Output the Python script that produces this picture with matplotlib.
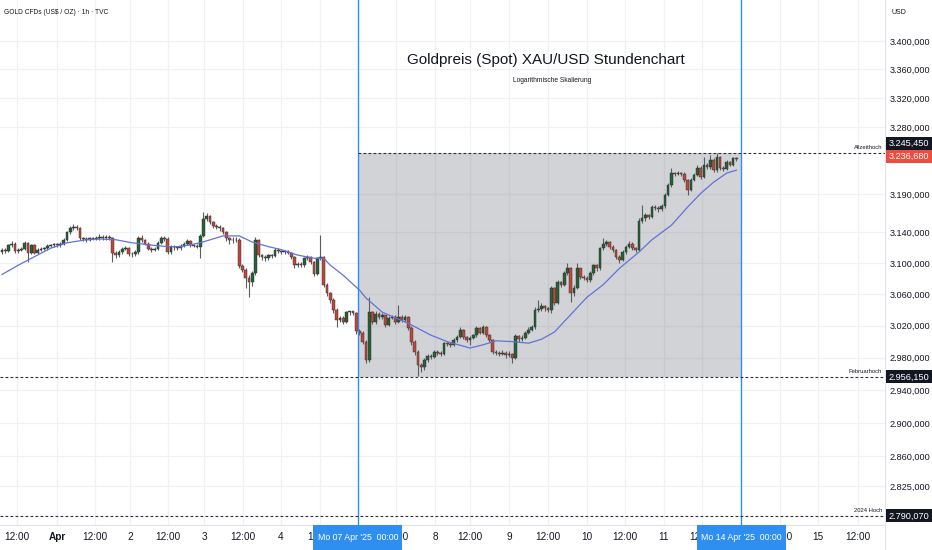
import numpy as np
import matplotlib
matplotlib.use("Agg")
import matplotlib.pyplot as plt
from matplotlib.patches import Rectangle
from matplotlib.lines import Line2D
import matplotlib.ticker as mticker

# ---------------- data (hourly candles, GOLD CFD) ----------------
first_open = 3114
closes = [
    3117, 3115, 3123, 3125, 3115, 3117, 3118, 3126, 3113, 3123,
    3113, 3117, 3118, 3119, 3122, 3123, 3124, 3123, 3125, 3130,
    3140, 3145, 3147, 3145, 3132, 3131, 3130, 3132, 3131, 3132,
    3134, 3132, 3134, 3132, 3113, 3110, 3114, 3118, 3119, 3112,
    3111, 3114, 3132, 3130, 3125, 3118, 3117, 3118, 3126, 3132,
    3131, 3114, 3121, 3120, 3119, 3122, 3125, 3128, 3123, 3122,
    3121, 3135, 3157, 3161, 3153, 3148, 3147, 3145, 3140, 3132,
    3130, 3129, 3130, 3096, 3091, 3081, 3075, 3087, 3130, 3110,
    3108, 3106, 3110, 3109, 3117, 3115, 3114, 3115, 3113, 3108,
    3097, 3099, 3097, 3106, 3108, 3101, 3086, 3106, 3107, 3072,
    3061, 3053, 3040, 3027, 3030, 3025, 3037, 3038, 3036, 3013,
    3011, 3000, 2977, 3037, 3025, 3035, 3031, 3033, 3021, 3030,
    3031, 3025, 3031, 3027, 3031, 3017, 3000, 2987, 2971, 2968,
    2977, 2982, 2981, 2987, 2986, 2985, 2998, 2997, 2996, 3002,
    3006, 3015, 3006, 3002, 3005, 3008, 3017, 3011, 3018, 3008,
    3002, 2987, 2986, 2985, 2986, 2983, 2985, 2980, 3007, 3003,
    3005, 3011, 3015, 3018, 3040, 3041, 3045, 3042, 3040, 3068,
    3049, 3075, 3072, 3087, 3093, 3061, 3068, 3093, 3082, 3081,
    3078, 3087, 3097, 3093, 3119, 3125, 3127, 3121, 3117, 3108,
    3104, 3114, 3121, 3125, 3119, 3117, 3155, 3158, 3162, 3160,
    3173, 3172, 3170, 3174, 3189, 3202, 3218, 3217, 3218, 3217,
    3209, 3196, 3209, 3216, 3225, 3213, 3229, 3226, 3236, 3222,
    3240, 3225, 3224, 3233, 3229, 3238, 3236.68]
highs = [
    3119, 3119, 3125, 3128, 3127, 3119, 3120, 3128, 3127, 3125,
    3125, 3119, 3120, 3121, 3124, 3125, 3126, 3126, 3127, 3132,
    3142, 3148, 3151, 3149, 3146, 3134, 3133, 3134, 3134, 3135,
    3138, 3136, 3136, 3136, 3133, 3115, 3116, 3121, 3122, 3121,
    3114, 3117, 3135, 3136, 3131, 3127, 3120, 3121, 3128, 3135,
    3135, 3133, 3123, 3123, 3122, 3124, 3127, 3131, 3129, 3125,
    3124, 3137, 3166, 3165, 3163, 3155, 3151, 3149, 3147, 3142,
    3134, 3133, 3133, 3132, 3098, 3093, 3084, 3089, 3134, 3131,
    3112, 3110, 3112, 3112, 3119, 3119, 3117, 3117, 3117, 3114,
    3109, 3101, 3101, 3108, 3110, 3109, 3102, 3108, 3136, 3109,
    3074, 3063, 3055, 3042, 3032, 3032, 3039, 3039, 3039, 3037,
    3016, 3013, 3002, 3056, 3039, 3038, 3037, 3036, 3034, 3032,
    3034, 3033, 3046, 3033, 3033, 3032, 3019, 3002, 2989, 2974,
    2979, 2985, 2984, 2990, 2989, 2988, 3000, 3000, 2999, 3004,
    3008, 3018, 3016, 3007, 3007, 3010, 3020, 3018, 3021, 3019,
    3009, 3003, 2989, 2988, 2989, 2988, 2988, 2986, 3009, 3008,
    3008, 3013, 3018, 3021, 3043, 3052, 3048, 3046, 3044, 3070,
    3069, 3078, 3077, 3090, 3100, 3095, 3071, 3100, 3094, 3084,
    3083, 3089, 3099, 3099, 3121, 3132, 3130, 3128, 3123, 3118,
    3110, 3116, 3123, 3128, 3127, 3121, 3158, 3176, 3165, 3164,
    3176, 3175, 3174, 3177, 3191, 3205, 3225, 3220, 3221, 3220,
    3219, 3210, 3211, 3218, 3229, 3227, 3240, 3231, 3242, 3238,
    3245.45, 3241, 3227, 3235, 3234, 3240, 3240]
lows = [
    3112, 3113, 3114, 3121, 3113, 3113, 3115, 3116, 3101, 3111,
    3111, 3111, 3115, 3116, 3117, 3120, 3121, 3121, 3121, 3123,
    3128, 3138, 3143, 3143, 3130, 3128, 3127, 3128, 3129, 3129,
    3130, 3130, 3130, 3130, 3101, 3106, 3108, 3112, 3116, 3109,
    3108, 3109, 3112, 3127, 3123, 3116, 3114, 3115, 3116, 3124,
    3128, 3112, 3111, 3117, 3116, 3117, 3120, 3123, 3121, 3120,
    3119, 3106, 3133, 3154, 3150, 3145, 3144, 3142, 3137, 3128,
    3125, 3126, 3127, 3093, 3088, 3068, 3056, 3070, 3085, 3107,
    3104, 3103, 3104, 3106, 3107, 3113, 3112, 3112, 3111, 3105,
    3094, 3095, 3095, 3095, 3104, 3098, 3083, 3084, 3104, 3069,
    3057, 3049, 3036, 3018, 3024, 3022, 3023, 3034, 3034, 3010,
    3008, 2997, 2973, 2975, 3022, 3022, 3028, 3029, 3018, 3019,
    3028, 3022, 3023, 3024, 3025, 3014, 2996, 2983, 2957, 2962,
    2965, 2975, 2978, 2979, 2983, 2982, 2983, 2994, 2993, 2994,
    3000, 3004, 3003, 2999, 2996, 3003, 3006, 3009, 3009, 3006,
    2999, 2984, 2983, 2982, 2983, 2980, 2981, 2974, 2978, 3000,
    3001, 3003, 3009, 3013, 3016, 3037, 3039, 3039, 3037, 3036,
    3046, 3047, 3069, 3070, 3085, 3050, 3058, 3066, 3079, 3078,
    3075, 3076, 3085, 3090, 3091, 3117, 3122, 3118, 3114, 3105,
    3100, 3102, 3112, 3119, 3116, 3114, 3115, 3152, 3155, 3157,
    3158, 3169, 3167, 3168, 3172, 3187, 3200, 3214, 3215, 3214,
    3206, 3189, 3194, 3207, 3214, 3210, 3211, 3223, 3224, 3219,
    3220, 3222, 3221, 3222, 3227, 3227, 3234]

# moving average (at selected bars)
ma_bar = [0, 5, 10, 15, 20, 26, 30, 35, 40, 46, 51, 55, 61, 68, 73, 77, 82, 86,
          91, 96, 99, 101, 105, 110, 112, 117, 125, 132, 137, 144, 148, 152,
          157, 162, 166, 170, 175, 180, 185, 190, 196, 200, 206, 211, 215,
          219, 223, 226]
ma_val = [3085, 3097, 3108, 3119, 3126, 3130, 3131, 3130, 3126, 3123, 3121,
          3121, 3126, 3135, 3135, 3127, 3121, 3117, 3110, 3106, 3106, 3097,
          3084, 3065, 3055, 3037, 3023, 3008, 3000, 2992, 2996, 3001, 3000,
          2998, 3003, 3012, 3034, 3056, 3072, 3093, 3114, 3130, 3149, 3173,
          3191, 3206, 3218, 3222]

ath = 3245.45
last_price = 3236.68
feb_high = 2956.15
high_2024 = 2790.07

price_ticks = [3400, 3360, 3320, 3280, 3190, 3140, 3100, 3060, 3020, 2980,
               2940, 2900, 2860, 2825]

time_pos = [4.6, 16.9, 28.6, 39.4, 51.1, 62.2, 74.2, 85.8, 97.8, 121.2, 133.2,
            144.0, 156.0, 168.0, 180.0, 191.7, 203.7, 215.4, 239.4, 251.0, 263.4]
time_lbl = ['12:00', 'Apr', '12:00', '2', '12:00', '3', '12:00', '4', '12:00',
            '12:00', '8', '12:00', '9', '12:00', '10', '12:00', '11', '12:00',
            '12:00', '15', '12:00']
marker_pos = [109.5, 227.4]
marker_lbl = ["Mo 07 Apr '25  00:00", "Mo 14 Apr '25  00:00"]

title = "Goldpreis (Spot) XAU/USD Stundenchart"
subtitle = "Logarithmische Skalierung"
header = "GOLD CFDs (US$ / OZ) \u00b7 1h \u00b7 TVC"

# ---------------- style ----------------
FONT = ['Liberation Sans', 'DejaVu Sans']
plt.rcParams['font.family'] = FONT
TXT = '#131722'
GREEN = '#25613a'
RED = '#bd4739'
WICK = '#5a5e63'
BLUE = '#2f8ff0'
W, H = 932, 550

def fmt(v):
    s = f"{v:,.3f}"
    return s.replace(',', 'X').replace('.', ',').replace('X', '.')

fig = plt.figure(figsize=(W / 100, H / 100), dpi=100)
fig.patch.set_facecolor('white')
ax = fig.add_axes([0, 25 / H, 885 / W, 525 / H])
ax.set_yscale('log')
ax.set_ylim(2779.5, 3458.5)
ax.set_xlim(-0.615, 271.7)

for s in ax.spines.values():
    s.set_visible(False)

ax.yaxis.set_major_locator(mticker.FixedLocator(price_ticks))
ax.yaxis.set_minor_locator(mticker.NullLocator())
ax.yaxis.set_major_formatter(mticker.FuncFormatter(lambda v, p: fmt(v)))
ax.yaxis.tick_right()
ax.tick_params(axis='y', length=0, pad=3.5, labelsize=6.6, labelcolor=TXT)
ax.set_xticks(time_pos)
ax.set_xticklabels(time_lbl)
ax.tick_params(axis='x', length=0, pad=5, labelsize=7.2, labelcolor=TXT)
for t in ax.get_xticklabels():
    if t.get_text() == 'Apr':
        t.set_fontweight('bold')
ax.grid(True, color='#f0f1f4', lw=0.9, zorder=0)
ax.set_axisbelow(True)

# grey zone between the two markers
ax.add_patch(Rectangle((marker_pos[0], feb_high), marker_pos[1] - marker_pos[0],
                       ath - feb_high, facecolor=(0.47, 0.48, 0.525, 0.33),
                       edgecolor='none', zorder=1))

# candles
n = len(closes)
x = np.arange(n)
opens = np.array([first_open] + closes[:-1], dtype=float)
c = np.array(closes, dtype=float)
hi = np.array(highs, dtype=float)
lo = np.array(lows, dtype=float)
up = c >= opens
cols = np.where(up, GREEN, RED)
ax.vlines(x, lo, hi, colors=WICK, lw=0.8, zorder=3)
bottom = np.minimum(opens, c)
height = np.maximum(np.abs(c - opens), 0.6)
ax.bar(x, height, bottom=bottom, width=0.78, color=cols, edgecolor='#2b2b2b',
       lw=0.3, zorder=4)

# moving average
ax.plot(ma_bar, ma_val, color='#6272d8', lw=0.9, zorder=5)

# vertical markers
for mp in marker_pos:
    ax.axvline(mp, color=BLUE, lw=1.0, zorder=6)

# dashed levels
xr = ax.get_xlim()[1]
dash = (0, (2.5, 2.0))
ax.hlines(ath, marker_pos[0], xr, colors='#2a2e39', lw=0.8, linestyles=dash, zorder=6)
ax.hlines(feb_high, ax.get_xlim()[0], xr, colors='#2a2e39', lw=0.8, linestyles=dash, zorder=6)
ax.hlines(high_2024, ax.get_xlim()[0], xr, colors='#2a2e39', lw=0.8, linestyles=dash, zorder=6)

def fig_y(v):
    return ax.transData.transform((0, v))[1]

def fig_x(v):
    return ax.transData.transform((v, 0))[0]

# small level labels
for val, lab in [(ath, 'Allzeithoch'), (feb_high, 'Februarhoch'), (high_2024, '2024 Hoch')]:
    fig.text(882 / W, (fig_y(val) + 3) / H, lab, ha='right', va='bottom',
             fontsize=4.2, color=TXT)

# right axis / bottom axis borders
fig.add_artist(Line2D([885 / W, 885 / W], [0, 1], color='#e0e3eb', lw=0.8))
fig.add_artist(Line2D([0, 885 / W], [25 / H, 25 / H], color='#e0e3eb', lw=0.8))

# price boxes on the right axis
def pbox(val, color, dy=0):
    yc = fig_y(val) + dy
    fig.add_artist(Rectangle((886 / W, (yc - 6.5) / H), 46 / W, 13 / H,
                             transform=fig.transFigure, facecolor=color,
                             edgecolor='none', zorder=10))
    fig.text(909 / W, yc / H, fmt(val), ha='center', va='center', fontsize=6.6,
             color='white', zorder=11)

pbox(ath, '#131722', dy=9)
pbox(last_price, '#ef4b3f', dy=3)
pbox(feb_high, '#131722')
pbox(high_2024, '#131722')

# date boxes at the bottom
for mp, lab in zip(marker_pos, marker_lbl):
    xc = fig_x(mp)
    fig.add_artist(Rectangle(((xc - 44.5) / W, 0), 89 / W, 25.5 / H,
                             transform=fig.transFigure, facecolor=BLUE,
                             edgecolor='none', zorder=10))
    fig.text(xc / W, 13 / H, lab, ha='center', va='center', fontsize=6.3,
             color='white', zorder=11)

# texts
fig.text(4 / W, 1 - 12 / H, header, ha='left', va='center', fontsize=4.8, color=TXT)
fig.text(892 / W, 1 - 12 / H, 'USD', ha='left', va='center', fontsize=5, color=TXT)
fig.text(546 / W, 1 - 60 / H, title, ha='center', va='center', fontsize=11, color=TXT)
fig.text(552 / W, 1 - 80 / H, subtitle, ha='center', va='center', fontsize=4.8, color=TXT)

fig.savefig('out.png', dpi=100, facecolor='white')
